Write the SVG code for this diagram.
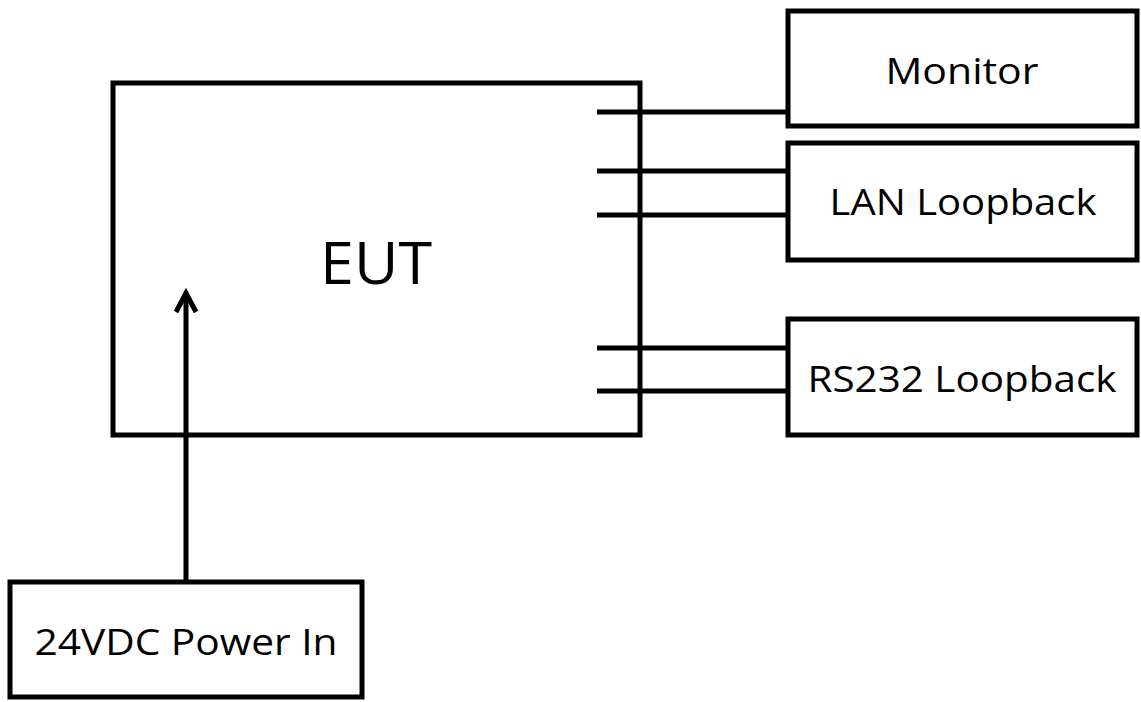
<svg xmlns="http://www.w3.org/2000/svg" width="1141" height="702" viewBox="0 0 1141 702">
<style>
.box{fill:#fff;stroke:#000;stroke-width:5}
.ln{stroke:#000;stroke-width:5;fill:none}
text{font-family:"Open Sans","Liberation Sans",sans-serif;fill:#000;text-anchor:middle}
.lbl{font-size:36px}
</style>
<rect width="1141" height="702" fill="#fff"/>
<g id="eut"><rect class="box" x="113" y="83" width="527" height="352"/><text x="376" y="284" font-size="58" textLength="112" lengthAdjust="spacingAndGlyphs">EUT</text></g>
<g id="monitor"><rect class="box" x="788" y="11" width="349" height="115"/><text class="lbl" x="962" y="84" textLength="153" lengthAdjust="spacingAndGlyphs">Monitor</text></g>
<g id="lan"><rect class="box" x="788" y="143" width="349" height="117"/><text class="lbl" x="963" y="215" textLength="267" lengthAdjust="spacingAndGlyphs">LAN Loopback</text></g>
<g id="rs232"><rect class="box" x="788" y="319" width="349" height="116"/><text class="lbl" x="962" y="392" textLength="309" lengthAdjust="spacingAndGlyphs">RS232 Loopback</text></g>
<g id="power"><rect class="box" x="10" y="582" width="352" height="115"/><text class="lbl" x="186" y="655" textLength="303" lengthAdjust="spacingAndGlyphs">24VDC Power In</text></g>
<g id="connectors">
<line class="ln" x1="597" y1="112" x2="788" y2="112"/>
<line class="ln" x1="597" y1="171" x2="788" y2="171"/>
<line class="ln" x1="597" y1="215" x2="788" y2="215"/>
<line class="ln" x1="597" y1="348" x2="788" y2="348"/>
<line class="ln" x1="597" y1="391" x2="788" y2="391"/>
<line class="ln" x1="186" y1="580" x2="186" y2="296"/>
<polyline class="ln" points="176,312 186,293 196,312" stroke-linejoin="miter" stroke-width="4.5"/>
</g>
</svg>
